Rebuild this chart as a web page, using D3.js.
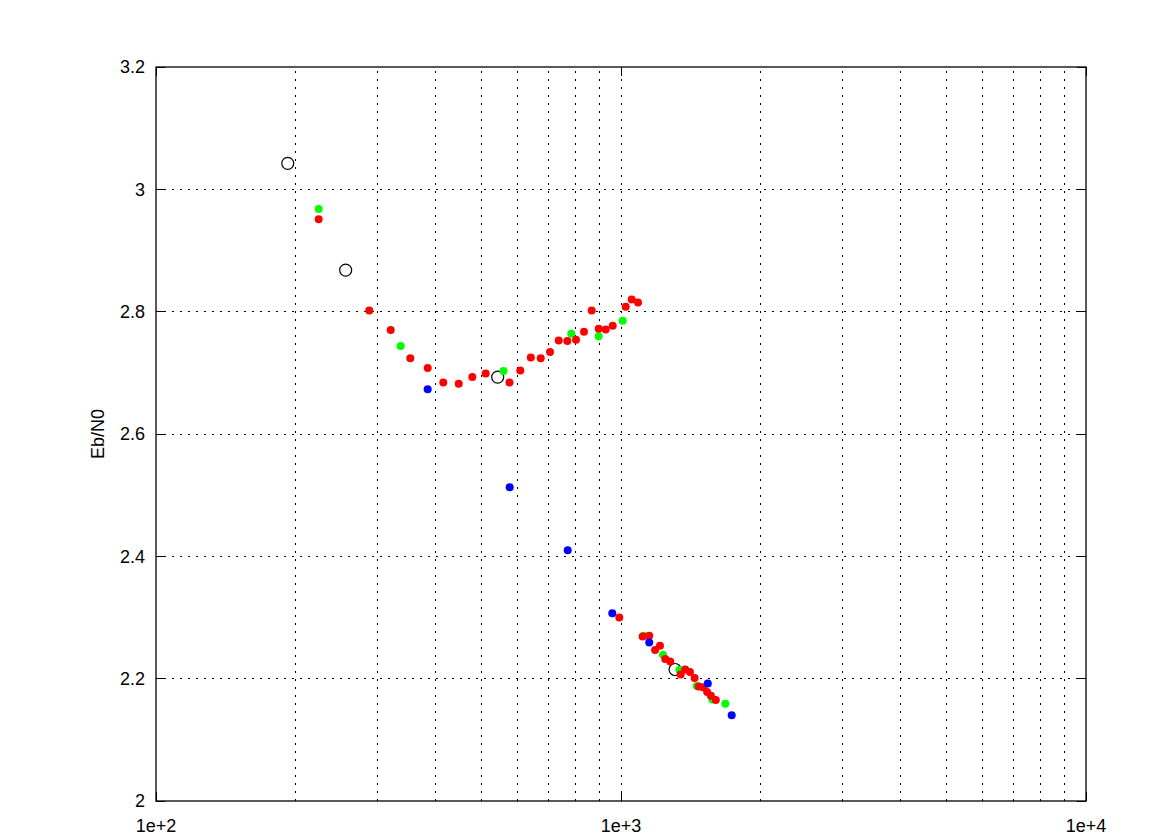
<!DOCTYPE html>
<html><head><meta charset="utf-8">
<script src="https://cdn.jsdelivr.net/npm/d3@7"></script>
<style>
body{margin:0;background:#fff;}
text{font-family:"Liberation Sans",Arial,Helvetica,sans-serif;}
</style></head>
<body><svg id="chart" width="1175" height="835"></svg>
<script>
const xTicks = [100, 1000, 10000];
const xTickLabels = ["1e+2", "1e+3", "1e+4"];
const yTicks = [2, 2.2, 2.4, 2.6, 2.8, 3, 3.2];
const yTickLabels = ["2", "2.2", "2.4", "2.6", "2.8", "3", "3.2"];
const yLabel = "Eb/N0";

const circleX = [192.0, 255.8, 543.0, 1307];
const circleY = [3.0425, 2.868, 2.693, 2.215];

const greenX = [223.8, 335.9, 558.9, 781.7, 895.4, 1008.5, 1119, 1231, 1335, 1455, 1572, 1676];
const greenY = [2.968, 2.744, 2.703, 2.764, 2.760, 2.785, 2.270, 2.239, 2.214, 2.188, 2.166, 2.159];

const redX = [223.8, 287.5, 319.7, 352.3, 383.9, 414.8, 447.7, 478.9, 511.7, 575.7, 607.3, 639.8, 672.0, 703.7, 734.6, 766.5, 800.3, 832.6, 864.9, 895.4, 927.1, 959.8, 1023.5, 1054.5, 1087.9,
  991.6, 1113, 1150, 1184, 1213, 1245, 1276, 1344, 1374, 1407, 1440, 1469, 1501, 1532, 1561, 1599];
const redY = [2.951, 2.802, 2.770, 2.724, 2.708, 2.684, 2.682, 2.693, 2.699, 2.684, 2.704, 2.725, 2.724, 2.734, 2.753, 2.752, 2.754, 2.767, 2.802, 2.772, 2.771, 2.777, 2.808, 2.820, 2.815,
  2.300, 2.269, 2.270, 2.247, 2.254, 2.232, 2.228, 2.207, 2.215, 2.211, 2.201, 2.187, 2.186, 2.178, 2.172, 2.165];

const blueX = [383.9, 576.3, 768.0, 957.8, 1150, 1537, 1730];
const blueY = [2.673, 2.513, 2.410, 2.307, 2.259, 2.192, 2.140];

const svg = d3.select("#chart");
const L = 156, R = 1086, T = 67, B = 801;
const x = d3.scaleLog().domain([100, 10000]).range([L, R]);
const y = d3.scaleLinear().domain([2, 3.2]).range([B, T]);

// grid
const gridX = [];
for (let d = 100; d < 10000; d *= 10) for (let k = 2; k <= 9; k++) gridX.push(k * d);
gridX.push(1000);
const g = svg.append("g");
g.selectAll("line.gx").data(gridX).enter().append("line")
  .attr("x1", d => x(d)).attr("x2", d => x(d)).attr("y1", B).attr("y2", T)
  .attr("stroke", "#000").attr("stroke-width", 1).attr("stroke-dasharray", "2,6")
  .attr("shape-rendering", "crispEdges");
g.selectAll("line.gy").data(yTicks.slice(1, -1)).enter().append("line")
  .attr("y1", d => y(d)).attr("y2", d => y(d)).attr("x1", L).attr("x2", R)
  .attr("stroke", "#000").attr("stroke-width", 1).attr("stroke-dasharray", "2,6")
  .attr("shape-rendering", "crispEdges");

// ticks
g.selectAll("line.tx").data(xTicks).enter().append("line")
  .attr("x1", d => x(d)).attr("x2", d => x(d)).attr("y1", B).attr("y2", B - 9)
  .attr("stroke", "#000").attr("shape-rendering", "crispEdges");
g.selectAll("line.tx2").data(xTicks).enter().append("line")
  .attr("x1", d => x(d)).attr("x2", d => x(d)).attr("y1", T).attr("y2", T + 9)
  .attr("stroke", "#000").attr("shape-rendering", "crispEdges");
g.selectAll("line.ty").data(yTicks).enter().append("line")
  .attr("y1", d => y(d)).attr("y2", d => y(d)).attr("x1", L).attr("x2", L + 9)
  .attr("stroke", "#000").attr("shape-rendering", "crispEdges");
g.selectAll("line.ty2").data(yTicks).enter().append("line")
  .attr("y1", d => y(d)).attr("y2", d => y(d)).attr("x1", R).attr("x2", R - 9)
  .attr("stroke", "#000").attr("shape-rendering", "crispEdges");

// border
svg.append("rect").attr("x", L).attr("y", T).attr("width", R - L).attr("height", B - T)
  .attr("fill", "none").attr("stroke", "#000").attr("stroke-width", 1.3);

// tick labels
svg.selectAll("text.yl").data(yTicks).enter().append("text")
  .attr("x", 145).attr("y", d => y(d)).attr("dy", "0.36em")
  .attr("text-anchor", "end").attr("font-size", 18).text((d, i) => yTickLabels[i]);
svg.selectAll("text.xl").data(xTicks).enter().append("text")
  .attr("x", d => x(d)).attr("y", 832)
  .attr("text-anchor", "middle").attr("font-size", 18).text((d, i) => xTickLabels[i]);
svg.append("text").attr("transform", "translate(104,434) rotate(-90)")
  .attr("text-anchor", "middle").attr("font-size", 18).text(yLabel);

// points
svg.selectAll("circle.k").data(circleX).enter().append("circle")
  .attr("cx", d => x(d)).attr("cy", (d, i) => y(circleY[i])).attr("r", 6)
  .attr("fill", "none").attr("stroke", "#000").attr("stroke-width", 1.2);
svg.selectAll("circle.g").data(greenX).enter().append("circle")
  .attr("cx", d => x(d)).attr("cy", (d, i) => y(greenY[i])).attr("r", 4).attr("fill", "#00ff00");
svg.selectAll("circle.r").data(redX).enter().append("circle")
  .attr("cx", d => x(d)).attr("cy", (d, i) => y(redY[i])).attr("r", 4).attr("fill", "#ff0000");
svg.selectAll("circle.b").data(blueX).enter().append("circle")
  .attr("cx", d => x(d)).attr("cy", (d, i) => y(blueY[i])).attr("r", 4).attr("fill", "#0000ff");
</script></body></html>
